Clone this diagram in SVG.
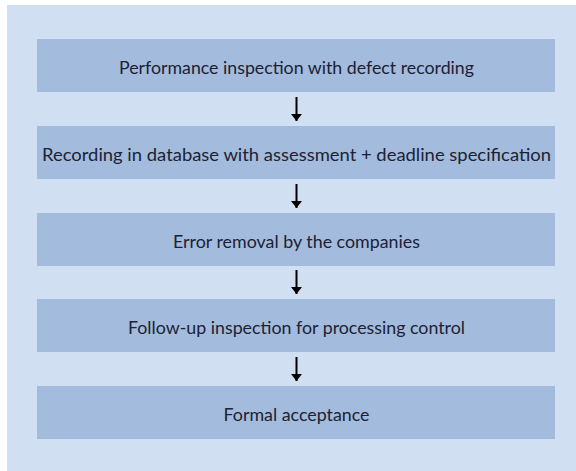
<svg xmlns="http://www.w3.org/2000/svg" width="576" height="471" viewBox="0 0 576 471">
<defs>
<style>
.box{fill:#a3bbdd}
.lbl{font-family:Lato,"Open Sans","Liberation Sans",sans-serif;font-size:18px;fill:#1c2233;text-anchor:middle}
.arr{stroke:#000;stroke-width:2;fill:none}
</style>
<marker id="ah" viewBox="0 0 7 11" refX="7" refY="5.5" markerWidth="7" markerHeight="11" markerUnits="userSpaceOnUse" orient="auto">
<path d="M0,0 L7,5.5 L0,11 Z" fill="#000"/>
</marker>
</defs>
<rect x="0" y="0" width="576" height="471" fill="#ffffff"/>
<rect x="7" y="5" width="569" height="466" fill="#d0dff2"/>
<g id="n1"><rect class="box" x="37" y="39" width="518" height="53"/><text class="lbl" x="296.5" y="74" textLength="355" lengthAdjust="spacingAndGlyphs">Performance inspection with defect recording</text></g>
<g id="n2"><rect class="box" x="37" y="126" width="518" height="53"/><text class="lbl" x="296.5" y="161" textLength="509" lengthAdjust="spacingAndGlyphs">Recording in database with assessment + deadline specification</text></g>
<g id="n3"><rect class="box" x="37" y="213" width="518" height="53"/><text class="lbl" x="296.5" y="248" textLength="247" lengthAdjust="spacingAndGlyphs">Error removal by the companies</text></g>
<g id="n4"><rect class="box" x="37" y="299" width="518" height="53"/><text class="lbl" x="296.5" y="334" textLength="337" lengthAdjust="spacingAndGlyphs">Follow-up inspection for processing control</text></g>
<g id="n5"><rect class="box" x="37" y="386" width="518" height="53"/><text class="lbl" x="296.5" y="421" textLength="146" lengthAdjust="spacingAndGlyphs">Formal acceptance</text></g>
<g id="connectors">
<line class="arr" x1="296.5" y1="97" x2="296.5" y2="121" marker-end="url(#ah)"/>
<line class="arr" x1="296.5" y1="184" x2="296.5" y2="208" marker-end="url(#ah)"/>
<line class="arr" x1="296.5" y1="270" x2="296.5" y2="294" marker-end="url(#ah)"/>
<line class="arr" x1="296.5" y1="357" x2="296.5" y2="381" marker-end="url(#ah)"/>
</g>
</svg>
